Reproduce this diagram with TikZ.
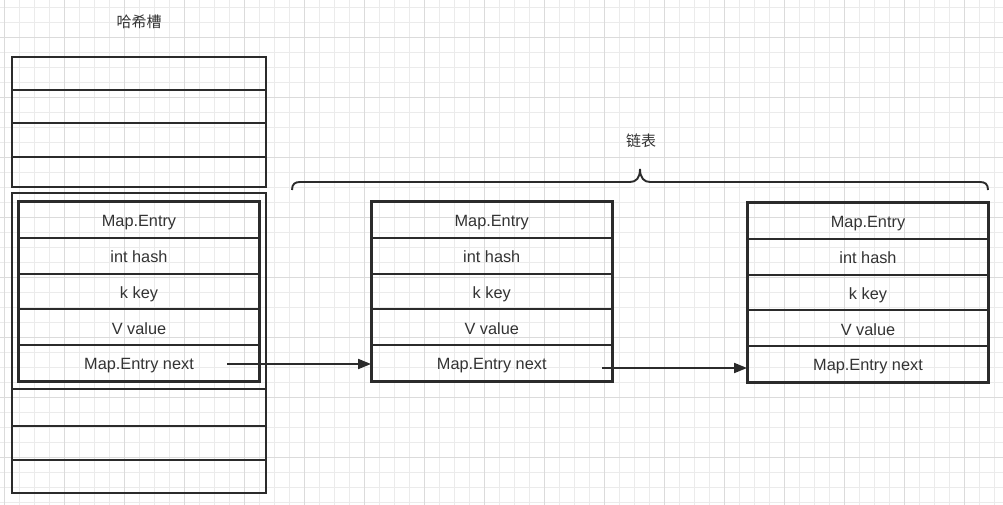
\documentclass[tikz,border=0pt]{standalone}
\usepackage{fontspec}
\setmainfont{Liberation Sans}
\newfontfamily\cjkfont{Noto Sans CJK SC}
\usetikzlibrary{arrows.meta}

\definecolor{linecol}{gray}{0.17}
\definecolor{textcol}{gray}{0.2}
\definecolor{gridminorcol}{gray}{0.92}
\definecolor{gridmajorcol}{gray}{0.86}

\tikzset{
  slotcell/.style={draw=linecol, line width=2pt, minimum width=254pt, inner sep=0pt},
  fieldcell/.style={draw=linecol, line width=1.9pt, minimum width=240pt, minimum height=35.8pt,
    inner sep=0pt, text height=13.6pt, text depth=0pt, text=textcol, font=\fontsize{16.3}{18}\selectfont},
  entrybox/.style={draw=linecol, line width=2.4pt},
  nextarrow/.style={draw=linecol, line width=1.9pt, -{Triangle[length=13pt,width=10pt]}},
  title/.style={text=textcol, font=\cjkfont\fontsize{15}{18}\selectfont},
}

\begin{document}
\begin{tikzpicture}[x=1pt,y=-1pt]
% Parameters
\def\rowH{35.8}
\def\topA{202}
\def\topB{202}
\def\topC{203}

\useasboundingbox (0,0) rectangle (1003,505);
\fill[white] (0,0) rectangle (1003,505);

% Grid
\begin{scope}
\clip (0,0) rectangle (1003,505);
\draw[gridminorcol, line width=1pt, step=15pt, xshift=4.3pt, yshift=-7.3pt] (-15pt,-520pt) grid (1020pt,15pt);
\draw[gridmajorcol, line width=1pt, step=60pt, xshift=4.3pt, yshift=-37.3pt] (-60pt,-540pt) grid (1020pt,60pt);
\end{scope}

% Hash slots
\node[title] (slottitle) at (139,22) {哈希槽};
\node[slotcell, minimum height=33pt] (slot1) at (139,73.5) {};
\node[slotcell, minimum height=33pt] (slot2) at (139,106.5) {};
\node[slotcell, minimum height=34pt] (slot3) at (139,140) {};
\node[slotcell, minimum height=30pt] (slot4) at (139,172) {};
\node[slotcell, minimum height=196pt] (slot5) at (139,291) {};
\node[slotcell, minimum height=37pt] (slot6) at (139,407.5) {};
\node[slotcell, minimum height=34pt] (slot7) at (139,443) {};
\node[slotcell, minimum height=33pt] (slot8) at (139,476.5) {};

% Entry in slot
\node[fieldcell] (ea1) at (139,\topA+0.5*\rowH) {Map.Entry};
\node[fieldcell] (ea2) at (139,\topA+1.5*\rowH) {int hash};
\node[fieldcell] (ea3) at (139,\topA+2.5*\rowH) {k key};
\node[fieldcell] (ea4) at (139,\topA+3.5*\rowH) {V value};
\node[fieldcell] (ea5) at (139,\topA+4.5*\rowH) {Map.Entry next};
\draw[entrybox] (ea1.north west) rectangle (ea5.south east);

% Linked list
\node[title] (listtitle) at (641,141) {链表};
\draw[linecol, line width=1.9pt] (292,190) .. controls (292,184) and (295,182) .. (300,182)
  -- (630,182) .. controls (636,182) and (640,178) .. (640,169)
  .. controls (640,178) and (644,182) .. (650,182)
  -- (980,182) .. controls (985,182) and (988,184) .. (988,190);

\node[fieldcell, minimum width=239.5pt] (eb1) at (491.75,\topB+0.5*\rowH) {Map.Entry};
\node[fieldcell, minimum width=239.5pt] (eb2) at (491.75,\topB+1.5*\rowH) {int hash};
\node[fieldcell, minimum width=239.5pt] (eb3) at (491.75,\topB+2.5*\rowH) {k key};
\node[fieldcell, minimum width=239.5pt] (eb4) at (491.75,\topB+3.5*\rowH) {V value};
\node[fieldcell, minimum width=239.5pt] (eb5) at (491.75,\topB+4.5*\rowH) {Map.Entry next};
\draw[entrybox] (eb1.north west) rectangle (eb5.south east);

\node[fieldcell] (ec1) at (868,\topC+0.5*\rowH) {Map.Entry};
\node[fieldcell] (ec2) at (868,\topC+1.5*\rowH) {int hash};
\node[fieldcell] (ec3) at (868,\topC+2.5*\rowH) {k key};
\node[fieldcell] (ec4) at (868,\topC+3.5*\rowH) {V value};
\node[fieldcell] (ec5) at (868,\topC+4.5*\rowH) {Map.Entry next};
\draw[entrybox] (ec1.north west) rectangle (ec5.south east);

% Next pointers
\coordinate (nexta) at (227,364);
\coordinate (nextb) at (602,368);
\draw[nextarrow] (nexta) -- (nexta -| eb5.west);
\draw[nextarrow] (nextb) -- (nextb -| ec5.west);
\end{tikzpicture}
\end{document}
